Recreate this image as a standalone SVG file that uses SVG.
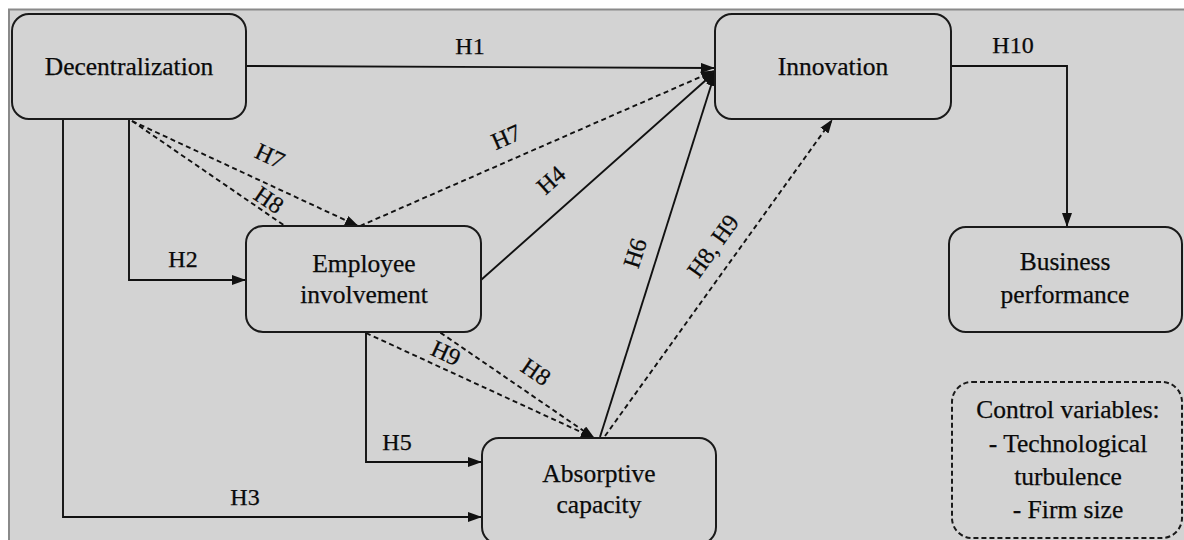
<svg xmlns="http://www.w3.org/2000/svg" width="1184" height="540" viewBox="0 0 1184 540">
  <defs>
    <marker id="arrow" viewBox="0 0 14 10" refX="13" refY="5" markerWidth="14" markerHeight="10" markerUnits="userSpaceOnUse" orient="auto">
      <path d="M0,0 L14,5 L0,10 Z" fill="#111"/>
    </marker>
    <style>
      .frame { fill: #d3d3d3; stroke: #8a8a8a; stroke-width: 2; }
      .box { fill: #d3d3d3; stroke: #1a1a1a; stroke-width: 2; }
      .ctrl { fill: #d3d3d3; stroke: #1a1a1a; stroke-width: 2; stroke-dasharray: 5 3; }
      .solid { fill: none; stroke: #111; stroke-width: 1.9; }
      .dash { fill: none; stroke: #111; stroke-width: 1.9; stroke-dasharray: 5 3.5; }
      text { font-family: "Liberation Serif", "Times New Roman", serif; fill: #0a0a0a; stroke: #0a0a0a; stroke-width: 0.25; }
      .node { font-size: 25.5px; text-anchor: middle; }
      .lbl { font-size: 24px; text-anchor: middle; }
    </style>
  </defs>

  <rect x="0" y="0" width="1184" height="540" fill="#ffffff"/>
  <rect class="frame" x="9" y="9.5" width="1185" height="540"/>

  <!-- connectors -->
  <g id="connectors">
    <path class="solid" d="M246,66 L714,68" marker-end="url(#arrow)"/>
    <path class="solid" d="M951,66 H1067 V226" marker-end="url(#arrow)"/>
    <path class="solid" d="M129,119 V280 H245" marker-end="url(#arrow)"/>
    <path class="solid" d="M63,119 V517 H481" marker-end="url(#arrow)"/>
    <path class="solid" d="M366,332 V462 H481" marker-end="url(#arrow)"/>
    <path class="solid" d="M481,280 L715,72" marker-end="url(#arrow)"/>
    <path class="solid" d="M600,437 L715,73" marker-end="url(#arrow)"/>
    <path class="dash" d="M132,121 L358,226" marker-end="url(#arrow)"/>
    <path class="dash" d="M132,121 L594,438" marker-end="url(#arrow)"/>
    <path class="dash" d="M366,333 L594,438" marker-end="url(#arrow)"/>
    <path class="dash" d="M360,226 L714,71" marker-end="url(#arrow)"/>
    <path class="dash" d="M605,436 L832,120" marker-end="url(#arrow)"/>
  </g>

  <!-- connector labels -->
  <g id="labels">
    <text class="lbl" x="470" y="54">H1</text>
    <text class="lbl" x="1013" y="53">H10</text>
    <text class="lbl" x="183" y="267">H2</text>
    <text class="lbl" x="245" y="505">H3</text>
    <text class="lbl" x="397" y="450">H5</text>
    <text class="lbl" transform="translate(270,156) rotate(25)" y="8">H7</text>
    <text class="lbl" transform="translate(269,200) rotate(34.4)" y="8">H8</text>
    <text class="lbl" transform="translate(506,137) rotate(-23.5)" y="8">H7</text>
    <text class="lbl" transform="translate(551,180) rotate(-41.8)" y="8">H4</text>
    <text class="lbl" transform="translate(635,253) rotate(-72.4)" y="8">H6</text>
    <text class="lbl" transform="translate(713,246) rotate(-54.3)" y="8">H8, H9</text>
    <text class="lbl" transform="translate(446,353) rotate(24.6)" y="8">H9</text>
    <text class="lbl" transform="translate(536,372) rotate(34.4)" y="8">H8</text>
  </g>

  <g id="decentralization">
    <rect class="box" x="12" y="14" width="234" height="105" rx="17"/>
    <text class="node" x="129" y="75">Decentralization</text>
  </g>

  <g id="innovation">
    <rect class="box" x="715" y="14" width="236" height="105" rx="17"/>
    <text class="node" x="833" y="75">Innovation</text>
  </g>

  <g id="employee-involvement">
    <rect class="box" x="246" y="226" width="235" height="106" rx="17"/>
    <text class="node" x="364" y="272">Employee</text>
    <text class="node" x="364" y="303">involvement</text>
  </g>

  <g id="business-performance">
    <rect class="box" x="949" y="227" width="233" height="105" rx="17"/>
    <text class="node" x="1065" y="270">Business</text>
    <text class="node" x="1065" y="303">performance</text>
  </g>

  <g id="absorptive-capacity">
    <rect class="box" x="482" y="438" width="234" height="106" rx="17"/>
    <text class="node" x="599" y="482">Absorptive</text>
    <text class="node" x="599" y="513">capacity</text>
  </g>

  <g id="control-variables">
    <rect class="ctrl" x="952" y="382" width="230" height="156" rx="20"/>
    <text class="node" x="1068" y="418">Control variables:</text>
    <text class="node" x="1068" y="452">- Technological</text>
    <text class="node" x="1068" y="485">turbulence</text>
    <text class="node" x="1068" y="518">- Firm size</text>
  </g>
</svg>
